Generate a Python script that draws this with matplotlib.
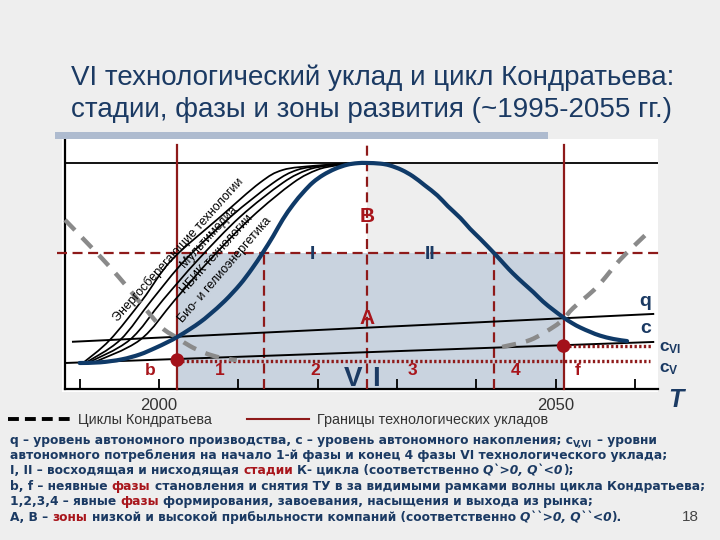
import matplotlib
matplotlib.use('Agg')
import matplotlib.pyplot as plt
import numpy as np
from matplotlib.path import Path
from matplotlib.patches import PathPatch, Rectangle
from matplotlib.lines import Line2D
from matplotlib.font_manager import FontProperties

# ------------------------------------------------------------------ data
tick_years = [1990, 2000, 2010, 2020, 2030, 2040, 2050, 2060]
tick_labels = ['', '2000', '', '', '', '', '2050', '']

# main Kondratiev wave (VI technological order)
wave_years = [1990.0, 1992.6, 1995.3, 1997.6, 1999.5, 2001.0, 2002.3, 2003.9, 2005.2, 2006.4,
              2008.3, 2010.2, 2011.7, 2013.1, 2014.4, 2015.6, 2016.9, 2018.2, 2019.4, 2020.7,
              2022.2, 2023.7, 2025.0, 2026.2, 2027.9, 2029.1, 2030.6, 2032.0, 2033.5, 2035.1,
              2036.4, 2038.0, 2039.2, 2040.5, 2042.4, 2043.6, 2044.6, 2045.9, 2047.2, 2048.4,
              2049.7, 2051.0, 2052.1, 2053.1, 2054.4, 2055.6, 2057.3, 2059.0]
wave_values = [11.5, 11.8, 13.1, 15.3, 18.1, 20.6, 23.0, 26.5, 29.6, 33.0,
               39.0, 46.2, 53.1, 60.4, 67.7, 75.0, 81.6, 87.1, 91.4, 94.7,
               97.4, 99.2, 99.9, 100.0, 99.7, 98.9, 96.9, 94.1, 90.1, 85.6,
               80.9, 75.6, 70.9, 66.4, 59.5, 54.9, 51.2, 46.9, 42.8, 38.7,
               35.0, 31.6, 29.1, 27.2, 25.2, 23.6, 22.1, 21.2]

# technology S-curves
tech_names = ['Энергосберегающие технологии', 'Мультимедиа', 'НБИК технологии',
              'Био- и гелиоэнергетика']
tech_values = [11.5, 21.7, 39.4, 57.1, 76.1, 91.2, 96.9, 98.8, 99.7]
tech_years_1 = [1990.4, 1993.8, 1997.9, 2001.6, 2007.7, 2012.7, 2015.6, 2019.7, 2023.7]
tech_years_2 = [1990.7, 1995.1, 1999.1, 2003.3, 2009.0, 2014.4, 2017.4, 2020.6, 2023.7]
tech_years_3 = [1991.0, 1996.3, 2000.5, 2004.9, 2010.2, 2015.6, 2018.7, 2021.3, 2023.7]
tech_years_4 = [1991.6, 1997.6, 2002.0, 2006.4, 2011.7, 2016.9, 2019.9, 2022.2, 2024.1]
tech_label_x = [2002.46, 2006.3, 2007.31, 2008.32]
tech_label_y = [61.5, 67.3, 59.5, 52.7]
tech_label_rot = [48.0, 48.0, 48.0, 49.0]

# neighbouring Kondratiev cycles (grey dashed)
prev_cycle_years = [1988.15, 1991.55, 1993.8, 1996.0, 1998.2, 2000.4, 2002.3, 2003.9, 2005.8, 2007.7, 2009.8]
prev_cycle_values = [74.8, 62.4, 54.0, 45.1, 35.8, 27.0, 22.6, 19.0, 15.9, 13.9, 12.8]
next_cycle_years = [2043.25, 2046.8, 2049.7, 2051.0, 2052.2, 2055.2, 2058.1, 2061.3]
next_cycle_values = [18.6, 21.7, 27.4, 31.0, 35.8, 45.1, 57.1, 68.1]

# q and c levels (start / end)
q_years = [1989.15, 2062.3]
q_values = [20.9, 33.2]
c_years = [1988.15, 2062.3]
c_values = [11.5, 20.8]

# phases / stages
order_start, order_end = 2002.3, 2051.0
phase_inner = [2013.2, 2042.2]
peak_year = 2026.2
top_level = 100.0
profit_level = 60.2
cV_level, cVI_level = 12.6, 18.8
dots_years = [2002.3, 2051.0]
dots_values = [12.8, 19.0]

phase_names = ['b', '1', '2', '3', '4', 'f']
phase_x = [1998.9, 2007.7, 2019.7, 2032.0, 2044.9, 2052.8]
stage_names = ['I', 'II']
stage_x = [2019.4, 2034.2]

# ------------------------------------------------------------------ style
NAVY = '#1b3a63'
WAVE = '#0f3a68'
DRED = '#8e1a1a'
TRED = '#a8151b'
GREY = '#8a8a8a'
W, H = 720, 540
plt.rcParams['font.family'] = ['Liberation Sans', 'DejaVu Sans']
plt.rcParams['mathtext.fontset'] = 'custom'
plt.rcParams['mathtext.bf'] = 'Liberation Sans:bold'
plt.rcParams['mathtext.rm'] = 'Liberation Sans'
plt.rcParams['mathtext.it'] = 'Liberation Sans:italic'

fig = plt.figure(figsize=(7.2, 5.4), dpi=100)
fig.patch.set_facecolor('#eeeeee')


def px2fig(x, y):
    return x / W, 1 - y / H


# decoration bar above the chart
fig.add_artist(Rectangle(px2fig(55, 139), 493 / W, 7 / H, transform=fig.transFigure,
                         facecolor='#aebbcf', edgecolor='none'))

ax = fig.add_axes([62 / W, 1 - 392 / H, 596 / W, 253 / H])
ax.set_facecolor('white')
ax.set_xlim(1987.77, 2062.9)
ax.set_ylim(-1.33, 110.6)


def smooth_path(xs, ys):
    P = np.column_stack([xs, ys]).astype(float)
    n = len(P)
    verts = [P[0]]
    codes = [Path.MOVETO]
    for i in range(n - 1):
        p0 = P[i - 1] if i > 0 else P[i]
        p1, p2 = P[i], P[i + 1]
        p3 = P[i + 2] if i + 2 < n else P[i + 1]
        verts += [p1 + (p2 - p0) / 6, p2 - (p3 - p1) / 6, p2]
        codes += [Path.CURVE4] * 3
    return Path(verts, codes)


# shaded zones
ax.fill_between([order_start, order_end], 0, profit_level, color='#c9d3df', lw=0, zorder=0)
ax.fill_between([peak_year, order_end], profit_level, top_level, color='#eeeeee', lw=0, zorder=0)

# spines / axis
for s in ['top', 'right']:
    ax.spines[s].set_visible(False)
ax.spines['bottom'].set_position(('data', 0))
ax.spines['bottom'].set_bounds(1988.15, 2062.9)
ax.spines['left'].set_position(('data', 1988.15))
ax.spines['left'].set_bounds(0, 110.6)
for s in ['bottom', 'left']:
    ax.spines[s].set_linewidth(1.6)
    ax.spines[s].set_color('black')
ax.set_yticks([])
ax.set_xticks(tick_years)
ax.set_xticklabels(tick_labels)
ax.tick_params(axis='x', direction='in', length=7, width=1.3, pad=6.5,
               labelsize=12, labelcolor='#333333')

# top level line
ax.plot([1988.15, 2062.9], [top_level, top_level], color='black', lw=1.3, zorder=2)

# dark-red boundaries
for xv in [order_start, order_end]:
    ax.plot([xv, xv], [0, 108], color=DRED, lw=1.6, zorder=3)
dash = (0, (4.5, 2.5))
ax.plot([peak_year, peak_year], [0, 108], color=DRED, lw=1.6, ls=dash, zorder=3)
for xv in phase_inner:
    ax.plot([xv, xv], [0, profit_level], color=DRED, lw=1.6, ls=dash, zorder=3)
ax.plot([1987.1, 2063.1], [profit_level, profit_level], color=DRED, lw=1.6, ls=dash,
        zorder=3, clip_on=False)

# technology S-curves
for xs in [tech_years_1, tech_years_2, tech_years_3, tech_years_4]:
    ax.add_patch(PathPatch(smooth_path(xs, tech_values), facecolor='none',
                           edgecolor='black', lw=1.25, zorder=4))
for name, lx, ly, rot in zip(tech_names, tech_label_x, tech_label_y, tech_label_rot):
    ax.text(lx, ly, name, rotation=rot, rotation_mode='anchor', ha='center', va='center',
            fontsize=9, color='black', zorder=6)

# q and c lines
ax.plot(q_years, q_values, color='black', lw=1.4, zorder=4)
ax.plot(c_years, c_values, color='black', lw=1.4, zorder=4)

# dotted consumption levels
dot = (0, (0.7, 0.7))
ax.plot([order_start, 2061.9], [cV_level, cV_level], color=DRED, lw=2.4, ls=dot, zorder=4,
        clip_on=False)
ax.plot([order_end, 2062.0], [cVI_level, cVI_level], color=DRED, lw=2.4, ls=dot, zorder=4,
        clip_on=False)

# neighbouring cycles
for xs, ys in [(prev_cycle_years, prev_cycle_values), (next_cycle_years, next_cycle_values)]:
    p = PathPatch(smooth_path(xs, ys), facecolor='none', edgecolor=GREY, lw=3.2,
                  ls=(0, (3.2, 2.3)), zorder=5)
    p.set_capstyle('butt')
    ax.add_patch(p)

# main wave
ax.add_patch(PathPatch(smooth_path(wave_years, wave_values), facecolor='none',
                       edgecolor=WAVE, lw=3.0, zorder=6, capstyle='round'))

# dots
ax.scatter(dots_years, dots_values, s=95, color='#a3111a', zorder=8, edgecolors='none')

# labels
bold = dict(fontweight='bold', ha='center', va='center', zorder=9)
ax.text(peak_year, 76.5, 'B', color=TRED, fontsize=15, **bold)
ax.text(peak_year, 31.4, 'A', color=TRED, fontsize=15, **bold)
for nm, sx in zip(stage_names, stage_x):
    ax.text(sx, 59.4, nm, color=NAVY, fontsize=14, **bold)
for nm, px_ in zip(phase_names, phase_x):
    ax.text(px_, 8.0, nm, color=TRED, fontsize=12.5, **bold)
ax.annotate('V', (peak_year, 4.6), xytext=(-3, 0), textcoords='offset points',
            ha='right', va='center', fontsize=20, fontweight='bold', color=NAVY, zorder=9)
ax.annotate('I', (peak_year, 4.6), xytext=(3.6, 0), textcoords='offset points',
            ha='left', va='center', fontsize=20, fontweight='bold', color=NAVY, zorder=9)
ax.text(2061.3, 38.5, 'q', color=NAVY, fontsize=14, **bold)
ax.text(2061.3, 26.8, 'c', color=NAVY, fontsize=14, **bold)
ax.text(2063.0, 17.9, r'$\mathbf{c_{VI}}$', color=NAVY, fontsize=12.5, ha='left', va='center')
ax.text(2063.0, 8.9, r'$\mathbf{c_{V}}$', color=NAVY, fontsize=12.5, ha='left', va='center')
ax.text(2065.1, -4.9, 'T', color=NAVY, fontsize=18, fontweight='bold', fontstyle='italic',
        ha='center', va='center')

# legend
handles = [Line2D([], [], color='black', lw=2.8, ls=(0, (2.8, 1.55)), dash_capstyle='butt'),
           Line2D([], [], color=DRED, lw=1.5)]
leg = fig.legend(handles, ['Циклы Кондратьева', 'Границы технологических укладов'],
                 loc='center left', bbox_to_anchor=px2fig(8, 420), ncol=2, frameon=False,
                 prop=FontProperties(family='Liberation Sans', size=10.4),
                 handlelength=4.3, handletextpad=0.55, columnspacing=2.4,
                 borderpad=0, borderaxespad=0, labelcolor='#333333')

# title
for txt, yb in [('VI технологический уклад и цикл Кондратьева:', 85),
                ('стадии, фазы и зоны развития (~1995-2055 гг.)', 117)]:
    fig.text(*px2fig(71, yb), txt, fontsize=20, color=NAVY, ha='left', va='baseline')

# bottom notes
renderer = fig.canvas.get_renderer()
FS = 8.85
NOTE_FONT = ['DejaVu Sans']


def measure(s):
    t = fig.text(0, 0, s, fontsize=FS, fontweight='bold', family=NOTE_FONT)
    w = t.get_window_extent(renderer).width
    t.remove()
    return w


space_w = measure('a a') - measure('aa')

R = 'red'
I_ = 'ital'
S_ = 'sub'
notes = [
    (444, [('q – уровень автономного производства, с – уровень автономного накопления; c', None),
           ('V,VI', S_), (' – уровни', None)]),
    (459, [('автономного потребления на начало 1-й фазы и конец 4 фазы VI технологического уклада;', None)]),
    (474, [('I, II – восходящая и нисходящая ', None), ('стадии', R),
           (' К- цикла (соответственно ', None), ('Q`>0, Q`<0', I_), (');', None)]),
    (490, [('b, f – неявные ', None), ('фазы', R),
           (' становления и снятия ТУ в за видимыми рамками волны цикла Кондратьева;', None)]),
    (505, [('1,2,3,4 – явные ', None), ('фазы', R),
           (' формирования, завоевания, насыщения и выхода из рынка;', None)]),
    (521, [('А, В – ', None), ('зоны', R),
           (' низкой и высокой прибыльности компаний (соответственно ', None),
           ('Q``>0, Q``<0', I_), (').', None)]),
]
for yb, segs in notes:
    x = 10.0
    for text, kind in segs:
        lead = len(text) - len(text.lstrip(' '))
        trail = len(text) - len(text.rstrip(' '))
        core = text.strip(' ')
        x += lead * space_w
        color = TRED if kind == R else NAVY
        fs = FS * 0.72 if kind == S_ else FS
        y = yb + 2.5 if kind == S_ else yb
        t = fig.text(*px2fig(x, y), core, fontsize=fs, fontweight='bold', family=NOTE_FONT,
                     fontstyle='italic' if kind == I_ else 'normal', color=color,
                     ha='left', va='baseline')
        x += t.get_window_extent(renderer).width + trail * space_w

fig.text(*px2fig(690, 521), '18', fontsize=11, color='#444444', ha='center', va='baseline')

fig.savefig('out.png', dpi=100, facecolor=fig.get_facecolor())
